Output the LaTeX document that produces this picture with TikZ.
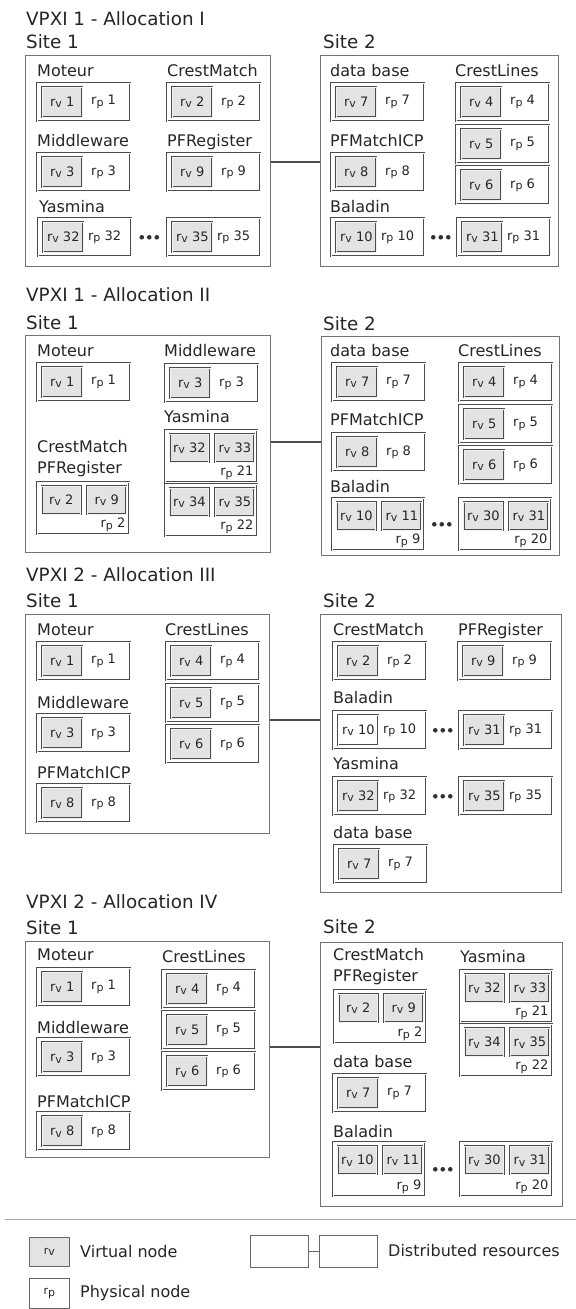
\documentclass[tikz,border=0pt]{standalone}
\usepackage{fontspec}
\setmainfont{DejaVu Sans}
\usetikzlibrary{fit,calc}
\newcommand\myrv{r\raisebox{-0.25ex}{\fontsize{11bp}{11bp}\selectfont v}}
\newcommand\myrp{r\raisebox{-0.25ex}{\fontsize{11bp}{11bp}\selectfont p}}
\tikzset{
  site/.style={draw=black!55, line width=1bp, inner sep=0pt},
  phys/.style={draw=black!70, line width=0.55bp, double=white, double distance=0.9bp, fill=white, inner sep=0pt},
  virt/.style={draw=black!70, line width=0.55bp, double=gray!10, double distance=0.9bp, fill=gray!22, inner sep=0pt, minimum width=40bp, minimum height=30bp, text=black!85, font=\fontsize{13bp}{14bp}\selectfont},
  rptext/.style={inner sep=0pt, text=black!85, font=\fontsize{13bp}{14bp}\selectfont},
  lab/.style={inner sep=0pt, anchor=base west, text=black!85, font=\fontsize{16bp}{19bp}\selectfont},
  ttl/.style={inner sep=0pt, anchor=base west, text=black!85, font=\fontsize{18.3bp}{22bp}\selectfont},
  link/.style={draw=black!70, line width=2.4bp},
  legv/.style={draw=black!60, line width=0.8bp, fill=gray!22, inner sep=0pt, minimum width=40bp, minimum height=29bp, anchor=north west, text=black!85, font=\fontsize{11bp}{12bp}\selectfont},
  legp/.style={draw=black!60, line width=0.8bp, fill=white, inner sep=0pt, minimum width=40bp, minimum height=30bp, anchor=north west, text=black!85, font=\fontsize{11bp}{12bp}\selectfont},
  legd/.style={draw=black!60, line width=0.8bp, fill=white, inner sep=0pt, minimum width=58bp, minimum height=32bp, anchor=north west},
}
% single-virtual physical node: [virt style]{name}{x,y}{rv}{rp}
\newcommand\physone[5][]{%
  \node[phys, minimum width=93bp, minimum height=38bp, anchor=north west] (#2) at (#3) {};
  \node[virt, anchor=west, #1] (#2v) at ([xshift=5bp]#2.west) {\myrv\ #4};
  \node[rptext] (#2p) at ([xshift=-27bp]#2.east) {\myrp\ #5};
}
% two-virtual physical node: {name}{x,y}{rv a}{rv b}{rp}{height}
\newcommand\phystwo[6]{%
  \node[phys, minimum width=92bp, minimum height=#6bp, anchor=north west] (#1) at (#2) {};
  \node[virt, minimum width=39bp, minimum height=28bp, anchor=north west] (#1a) at ([xshift=4.5bp,yshift=-4bp]#1.north west) {\myrv\ #3};
  \node[virt, minimum width=39bp, minimum height=28bp, anchor=north west] (#1b) at ([xshift=50bp,yshift=-4bp]#1.north west) {\myrv\ #4};
  \node[rptext, anchor=east] (#1p) at ([xshift=-4bp,yshift=9.5bp]#1.south east) {\myrp\ #5};
}
\newcommand\tripledot[1]{\foreach \dx in {-7.5,0,7.5} {\fill[black!80] ([xshift=\dx bp]#1) circle (2.3bp);}}
\begin{document}
\begin{tikzpicture}[x=1bp,y=-1bp]
\path[use as bounding box, fill=white] (0,0) rectangle (576,1309);

% ================= Allocation I =================
\node[ttl] (ta) at (26,26) {VPXI 1 - Allocation I};
\node[ttl] (sa1l) at (26,49) {Site 1};
\node[ttl] (sa2l) at (323,49) {Site 2};
\node[site, fit={(25,56) (270,267)}] (sa1) {};
\node[site, fit={(320,56) (558,267)}] (sa2) {};
\node[lab] (lmoa) at (37,77) {Moteur};
\physone{moa}{37,83}{1}{1}
\node[lab] (lcma) at (167,77) {CrestMatch};
\physone{cma}{167,83}{2}{2}
\node[lab] (lmwa) at (37,147) {Middleware};
\physone{mwa}{37,153}{3}{3}
\node[lab] (lpfa) at (167,147) {PFRegister};
\physone{pfa}{167,153}{9}{9}
\node[lab] (lyaa) at (39,213) {Yasmina};
\physone{yaa}{38,218}{32}{32}
\physone{yba}{167,218}{35}{35}
\coordinate (dya) at ($(yaa.east)!0.5!(yba.west)$);
\tripledot{dya}
\node[lab] (ldba) at (330,77) {data base};
\physone{dba}{331,83}{7}{7}
\node[lab] (lcla) at (455,77) {CrestLines};
\physone{clda}{456,83}{4}{4}
\physone{clea}{456,125}{5}{5}
\physone{clfa}{456,166}{6}{6}
\node[lab] (lpma) at (330,147) {PFMatchICP};
\physone{pma}{331,153}{8}{8}
\node[lab] (lbaa) at (330,213) {Baladin};
\physone{baa}{331,218}{10}{10}
\physone{bba}{457,218}{31}{31}
\coordinate (dba2) at ($(baa.east)!0.5!(bba.west)$);
\tripledot{dba2}
\coordinate (ja) at (295,162);
\draw[link] (sa1.east |- ja) -- (sa2.west |- ja);

% ================= Allocation II =================
\node[ttl] (tb) at (26,302) {VPXI 1 - Allocation II};
\node[ttl] (sb1l) at (26,329) {Site 1};
\node[ttl] (sb2l) at (323,330) {Site 2};
\node[site, fit={(25,335) (270,552)}] (sb1) {};
\node[site, fit={(321,336) (559,555)}] (sb2) {};
\node[lab] (lmob) at (37,356) {Moteur};
\physone{mob}{37,363}{1}{1}
\node[lab] (lmwb) at (164,356) {Middleware};
\physone{mwb}{165,364}{3}{3}
\node[lab] (lyab) at (164,422) {Yasmina};
\phystwo{yab}{165,430}{32}{33}{21}{52}
\phystwo{ybb}{165,484}{34}{35}{22}{52}
\node[lab] (lcmb) at (37,452) {CrestMatch};
\node[lab] (lpfb) at (37,473) {PFRegister};
\phystwo{cpb}{37,482}{2}{9}{2}{52}
\node[lab] (ldbb) at (330,356) {data base};
\physone{dbb}{332,363}{7}{7}
\node[lab] (lclb) at (458,356) {CrestLines};
\physone{cldb}{459,363}{4}{4}
\physone{cleb}{459,405}{5}{5}
\physone{clfb}{459,446}{6}{6}
\node[lab] (lpmb) at (330,425) {PFMatchICP};
\physone{pmb}{332,433}{8}{8}
\node[lab] (lbab) at (330,492) {Baladin};
\phystwo{bab}{332,498}{10}{11}{9}{52}
\phystwo{bbb}{459,498}{30}{31}{20}{52}
\coordinate (dbb2) at ($(bab.east)!0.5!(bbb.west)$);
\tripledot{dbb2}
\coordinate (jb) at (295,442);
\draw[link] (sb1.east |- jb) -- (sb2.west |- jb);

% ================= Allocation III =================
\node[ttl] (tc) at (26,581) {VPXI 2 - Allocation III};
\node[ttl] (sc1l) at (26,607) {Site 1};
\node[ttl] (sc2l) at (323,607) {Site 2};
\node[site, fit={(25,614) (269,833)}] (sc1) {};
\node[site, fit={(320,614) (561,892)}] (sc2) {};
\node[lab] (lmoc) at (37,635) {Moteur};
\physone{moc}{37,642}{1}{1}
\node[lab] (lclc) at (165,635) {CrestLines};
\physone{cldc}{166,642}{4}{4}
\physone{clec}{166,684}{5}{5}
\physone{clfc}{166,725}{6}{6}
\node[lab] (lmwc) at (37,708) {Middleware};
\physone{mwc}{37,714}{3}{3}
\node[lab] (lpmc) at (37,778) {PFMatchICP};
\physone{pmc}{37,784}{8}{8}
\node[lab] (lcmc) at (333,635) {CrestMatch};
\physone{cmc}{333,642}{2}{2}
\node[lab] (lpfc) at (458,635) {PFRegister};
\physone{pfc}{458,642}{9}{9}
\node[lab] (lbac) at (333,703) {Baladin};
\physone[fill=white,double=white]{bac}{333,711}{10}{10}
\physone{bbc}{459,711}{31}{31}
\coordinate (dbc2) at ($(bac.east)!0.5!(bbc.west)$);
\tripledot{dbc2}
\node[lab] (lyac) at (333,769) {Yasmina};
\physone{yac}{333,777}{32}{32}
\physone{ybc}{459,777}{35}{35}
\coordinate (dyc) at ($(yac.east)!0.5!(ybc.west)$);
\tripledot{dyc}
\node[lab] (ldbc) at (333,838) {data base};
\physone{dbc}{334,845}{7}{7}
\coordinate (jc) at (295,720);
\draw[link] (sc1.east |- jc) -- (sc2.west |- jc);

% ================= Allocation IV =================
\node[ttl] (td) at (26,908) {VPXI 2 - Allocation IV};
\node[ttl] (sd1l) at (26,934) {Site 1};
\node[ttl] (sd2l) at (323,933) {Site 2};
\node[site, fit={(25,941) (269,1157)}] (sd1) {};
\node[site, fit={(320,942) (562,1206)}] (sd2) {};
\node[lab] (lmod) at (37,960) {Moteur};
\physone{mod}{37,968}{1}{1}
\node[lab] (lcld) at (162,962) {CrestLines};
\physone{cldd}{162,970}{4}{4}
\physone{cled}{162,1011}{5}{5}
\physone{clfd}{162,1052}{6}{6}
\node[lab] (lmwd) at (37,1033) {Middleware};
\physone{mwd}{37,1038}{3}{3}
\node[lab] (lpmd) at (37,1107) {PFMatchICP};
\physone{pmd}{37,1112}{8}{8}
\node[lab] (lcmd) at (333,960) {CrestMatch};
\node[lab] (lpfd) at (333,981) {PFRegister};
\phystwo{cpd}{334,990}{2}{9}{2}{53}
\node[lab] (lyad) at (460,962) {Yasmina};
\phystwo{yad}{460,970}{32}{33}{21}{52}
\phystwo{ybd}{460,1024}{34}{35}{22}{52}
\node[lab] (ldbd) at (333,1067) {data base};
\physone{dbd}{333,1074}{7}{7}
\node[lab] (lbad) at (333,1137) {Baladin};
\phystwo{bad}{333,1142}{10}{11}{9}{54}
\phystwo{bbd}{460,1142}{30}{31}{20}{54}
\coordinate (dbd2) at ($(bad.east)!0.5!(bbd.west)$);
\tripledot{dbd2}
\coordinate (jd) at (295,1047);
\draw[link] (sd1.east |- jd) -- (sd2.west |- jd);

% ================= Legend =================
\draw[black!35, line width=0.8bp] (5,1219) -- (576,1219);
\node[legv] (lgv) at (29,1237) {\myrv};
\node[lab, anchor=west] (lgvt) at (80,1252) {Virtual node};
\node[legp] (lgp) at (29,1278) {\myrp};
\node[lab, anchor=west] (lgpt) at (80,1293) {Physical node};
\node[legd] (lgd1) at (250,1235) {};
\node[legd] (lgd2) at (319,1235) {};
\draw[black!60, line width=0.8bp] (lgd1) -- (lgd2);
\node[lab, anchor=west] (lgdt) at (388,1251) {Distributed resources};
\end{tikzpicture}
\end{document}
